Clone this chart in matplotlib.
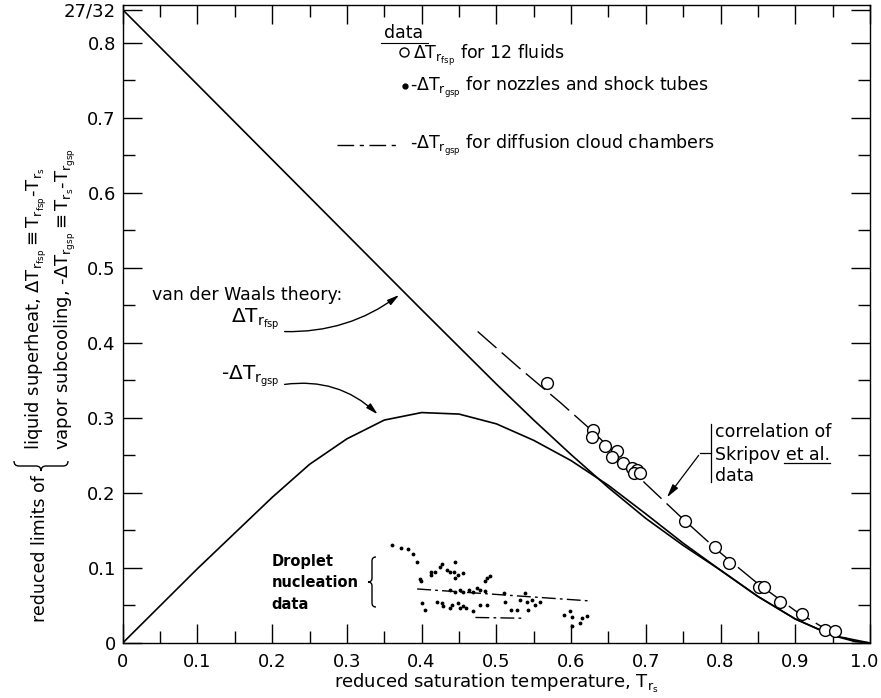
import matplotlib
matplotlib.use('Agg')
import matplotlib.pyplot as plt
from matplotlib.patches import FancyArrowPatch, PathPatch
from matplotlib.path import Path
from matplotlib.ticker import MultipleLocator, FixedLocator
from matplotlib.transforms import ScaledTranslation

plt.rcParams['font.family'] = ['DejaVu Sans']
plt.rcParams['mathtext.fontset'] = 'dejavusans'
plt.rcParams['mathtext.default'] = 'regular'

W, H = 881, 698

# van der Waals theory, liquid spinodal limit
fsp_tr = [0, 0.1, 0.2, 0.3, 0.4, 0.5, 0.55, 0.6, 0.65, 0.7, 0.75, 0.8, 0.85, 0.9, 0.95, 0.98, 1.0]
fsp_dt = [0.84375, 0.744, 0.644, 0.544, 0.444, 0.345, 0.297, 0.251, 0.207, 0.166, 0.130, 0.097,
          0.062, 0.032, 0.010, 0.002, 0]

# van der Waals theory, vapour spinodal limit
gsp_tr = [0, 0.1, 0.2, 0.25, 0.3, 0.35, 0.4, 0.45, 0.5, 0.55, 0.6, 0.65, 0.7, 0.75, 0.8, 0.85,
          0.9, 0.95, 1.0]
gsp_dt = [0, 0.099, 0.194, 0.238, 0.272, 0.297, 0.307, 0.305, 0.292, 0.270, 0.243, 0.210, 0.172,
          0.133, 0.097, 0.062, 0.032, 0.010, 0]

# superheat data for 12 fluids
fluid_tr = [0.568, 0.630, 0.628, 0.646, 0.661, 0.655, 0.670, 0.681, 0.688, 0.684, 0.692, 0.753,
            0.793, 0.811, 0.851, 0.858, 0.879, 0.909, 0.940, 0.953]
fluid_dt = [0.347, 0.284, 0.275, 0.262, 0.256, 0.248, 0.240, 0.233, 0.231, 0.226, 0.226, 0.162,
            0.128, 0.107, 0.074, 0.075, 0.055, 0.039, 0.017, 0.016]

# correlation of Skripov et al. data
skripov_tr = [0.475, 0.53, 0.586, 0.63, 0.70, 0.75, 0.80, 0.85, 0.90, 0.95, 0.98]
skripov_dt = [0.415, 0.367, 0.320, 0.281, 0.212, 0.165, 0.120, 0.079, 0.043, 0.013, 0.002]

# droplet nucleation data, nozzles and shock tubes
drop_tr = [0.360, 0.373, 0.382, 0.388, 0.394, 0.398, 0.399, 0.413, 0.412, 0.418, 0.427, 0.424,
           0.434, 0.438, 0.443, 0.445, 0.449, 0.445, 0.456, 0.474, 0.487, 0.492, 0.485,
           0.438, 0.445, 0.451, 0.456, 0.463, 0.469, 0.478, 0.485,
           0.400, 0.405, 0.420, 0.427, 0.429, 0.438, 0.440, 0.449, 0.451, 0.456, 0.460, 0.469,
           0.478, 0.487, 0.510, 0.512, 0.519, 0.528, 0.532, 0.539, 0.541, 0.543, 0.548, 0.559,
           0.552, 0.590, 0.599, 0.601, 0.615, 0.621, 0.612, 0.601]
drop_dt = [0.130, 0.126, 0.125, 0.119, 0.108, 0.085, 0.082, 0.094, 0.091, 0.095, 0.105, 0.101,
           0.097, 0.095, 0.095, 0.108, 0.091, 0.086, 0.093, 0.073, 0.087, 0.089, 0.082,
           0.070, 0.068, 0.070, 0.068, 0.070, 0.068, 0.070, 0.069,
           0.053, 0.044, 0.055, 0.053, 0.049, 0.047, 0.051, 0.053, 0.047, 0.049, 0.047, 0.042,
           0.051, 0.051, 0.066, 0.055, 0.044, 0.044, 0.057, 0.066, 0.055, 0.044, 0.057, 0.055,
           0.051, 0.037, 0.043, 0.034, 0.033, 0.036, 0.027, 0.022]

# diffusion cloud chamber data
cloud_tr = [0.394, 0.626]
cloud_dt = [0.072, 0.056]
cloud2_tr = [0.472, 0.536]
cloud2_dt = [0.034, 0.033]

xtick_vals = [0, 0.1, 0.2, 0.3, 0.4, 0.5, 0.6, 0.7, 0.8, 0.9, 1.0]
xtick_labels = ['0', '0.1', '0.2', '0.3', '0.4', '0.5', '0.6', '0.7', '0.8', '0.9', '1.0']
ytick_vals = [0, 0.1, 0.2, 0.3, 0.4, 0.5, 0.6, 0.7, 0.8, 27 / 32]
ytick_labels = ['0', '0.1', '0.2', '0.3', '0.4', '0.5', '0.6', '0.7', '0.8', '27/32']

FS = 12.5


def fx(px):
    return px / W


def fy(py):
    return 1 - py / H


def brace(fig, tip, length, depth, vertical=True):
    # brace drawn in pixel coords; vertical '{' opens right, horizontal opens up
    t, m = tip
    L, d = length / 2, depth
    pts = [(d, -L), (d / 2, -L), (d / 2, -L + d / 2), (d / 2, -d / 2), (d / 2, 0), (0, 0),
           (d / 2, 0), (d / 2, d / 2), (d / 2, L - d / 2), (d / 2, L), (d, L)]
    if vertical:
        pts = [(fx(t + a), fy(m + b)) for a, b in pts]
    else:
        pts = [(fx(t + b), fy(m - a)) for a, b in pts]
    codes = [Path.MOVETO, Path.CURVE3, Path.CURVE3, Path.LINETO, Path.CURVE3, Path.CURVE3,
             Path.CURVE3, Path.CURVE3, Path.LINETO, Path.CURVE3, Path.CURVE3]
    fig.patches.append(PathPatch(Path(pts, codes), fill=False, lw=1.0, color='black',
                                 transform=fig.transFigure))


fig = plt.figure(figsize=(W / 100, H / 100), dpi=100)
ax = fig.add_axes([fx(122.7), 55 / H, (870 - 122.7) / W, (643 - 5) / H])

ax.plot(fsp_tr, fsp_dt, color='black', lw=1.2)
ax.plot(gsp_tr, gsp_dt, color='black', lw=1.2)
ax.plot(skripov_tr, skripov_dt, color='black', lw=1.0, dashes=(18, 5))
ax.plot(fluid_tr, fluid_dt, 'o', ms=8.5, mfc='white', mec='black', mew=1.0)
ax.plot(drop_tr, drop_dt, '.', ms=3.5, color='black')
ax.plot(cloud_tr, cloud_dt, color='black', lw=1.0, dashes=(10, 3, 2, 3))
ax.plot(cloud2_tr, cloud2_dt, color='black', lw=1.0, dashes=(10, 3, 2, 3))

ax.set_xlim(0, 1.0)
ax.set_ylim(0, 0.85)
ax.xaxis.set_major_locator(FixedLocator(xtick_vals))
ax.set_xticklabels(xtick_labels)
ax.xaxis.set_minor_locator(MultipleLocator(0.05))
ax.yaxis.set_major_locator(FixedLocator(ytick_vals))
ax.set_yticklabels(ytick_labels)
ax.yaxis.set_minor_locator(FixedLocator([0.05, 0.15, 0.25, 0.35, 0.45, 0.55, 0.65, 0.75]))
ax.tick_params(which='both', direction='in', top=True, right=True, width=1.0, labelsize=13)
ax.tick_params(which='major', length=14)
ax.tick_params(which='minor', length=8.5)
ax.tick_params(axis='x', pad=7)
ax.tick_params(axis='y', pad=5)
for s in ax.spines.values():
    s.set_linewidth(1.0)
# keep the last x label inside the picture
last = ax.get_xticklabels()[-1]
last.set_transform(last.get_transform() + ScaledTranslation(-6 / 100, 0, fig.dpi_scale_trans))

ax.set_xlabel('reduced saturation temperature, $T_{r_s}$', fontsize=13, labelpad=1)

# legend block
ax.text(0.349, 0.806, 'data', fontsize=FS, va='baseline')
ax.plot([0.345, 0.408], [0.800, 0.800], color='black', lw=0.8)
ax.plot([0.3766], [0.787], 'o', ms=6.5, mfc='white', mec='black', mew=1.0)
ax.text(0.389, 0.778, r'$\Delta T_{r_{fsp}}$ for 12 fluids', fontsize=FS, va='baseline')
ax.plot([0.378], [0.742], '.', ms=7, color='black')
ax.text(0.385, 0.735, r'-$\Delta T_{r_{gsp}}$ for nozzles and shock tubes', fontsize=FS,
        va='baseline')
ax.plot([0.2865, 0.369], [0.664, 0.664], color='black', lw=1.0, dashes=(12, 4, 3, 4))
ax.text(0.385, 0.658, r'-$\Delta T_{r_{gsp}}$ for diffusion cloud chambers', fontsize=FS,
        va='baseline')

# theory labels and arrows
ax.text(0.039, 0.464, 'van der Waals theory:', fontsize=FS, va='center')
ax.text(0.210, 0.427, r'$\Delta T_{r_{fsp}}$', fontsize=14.5, ha='right', va='baseline')
ax.text(0.210, 0.351, r'-$\Delta T_{r_{gsp}}$', fontsize=14.5, ha='right', va='baseline')
ax.add_patch(FancyArrowPatch((0.213, 0.415), (0.373, 0.466), connectionstyle='arc3,rad=0.18',
                             arrowstyle='-|>,head_length=7,head_width=1.8', color='black', lw=1.0))
ax.add_patch(FancyArrowPatch((0.213, 0.344), (0.344, 0.302), connectionstyle='arc3,rad=-0.25',
                             arrowstyle='-|>,head_length=7,head_width=1.8', color='black', lw=1.0))

# Skripov correlation label
ax.text(0.793, 0.275, 'correlation of', fontsize=FS, va='baseline')
ax.text(0.793, 0.244, 'Skripov et al.', fontsize=FS, va='baseline')
ax.text(0.793, 0.216, 'data', fontsize=FS, va='baseline')
ax.plot([0.885, 0.946], [0.2395, 0.2395], color='black', lw=0.9)
ax.plot([0.787, 0.787], [0.215, 0.292], color='black', lw=0.9)
ax.plot([0.773, 0.787], [0.253, 0.253], color='black', lw=0.9)
ax.add_patch(FancyArrowPatch((0.773, 0.253), (0.726, 0.191),
                             arrowstyle='-|>,head_length=8,head_width=2', color='black', lw=0.9))

# droplet nucleation label
ax.text(0.199, 0.080, 'Droplet\nnucleation\ndata', fontsize=10.5, fontweight='bold',
        va='center', ha='left', linespacing=1.55)
brace(fig, (368, 582), 50, 8, vertical=True)

# y-axis label built from pieces
brace(fig, (41, 471), 54, 10, vertical=False)
fig.text(fx(45), fy(622), 'reduced limits of', fontsize=FS, rotation=90,
         rotation_mode='anchor', ha='left', va='baseline')
fig.text(fx(40), fy(450), r'liquid superheat, $\Delta T_{r_{fsp}} \equiv T_{r_{fsp}}$-$T_{r_s}$',
         fontsize=13, rotation=90, rotation_mode='anchor', ha='left', va='baseline')
fig.text(fx(69), fy(450), r'vapor subcooling, -$\Delta T_{r_{gsp}} \equiv T_{r_s}$-$T_{r_{gsp}}$',
         fontsize=13, rotation=90, rotation_mode='anchor', ha='left', va='baseline')

fig.savefig('out.png', dpi=100)
